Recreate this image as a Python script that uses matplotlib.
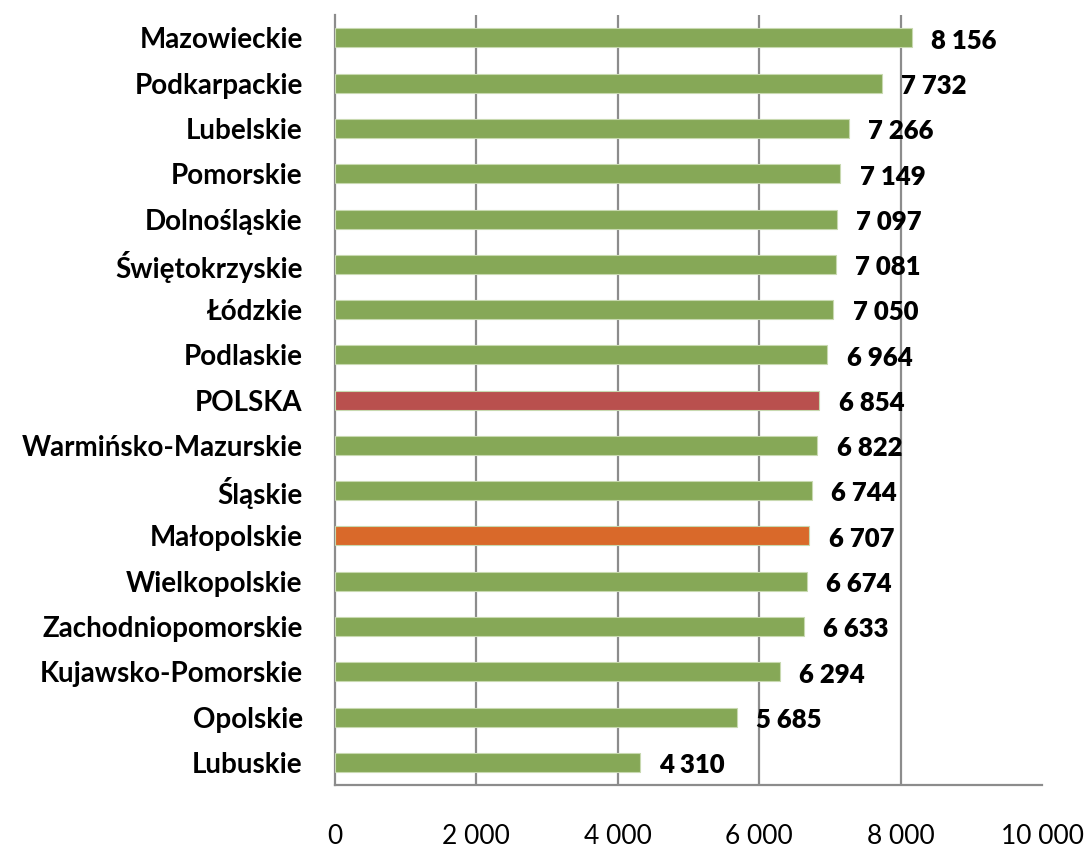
import matplotlib
matplotlib.use("Agg")
import matplotlib.pyplot as plt
import numpy as np

plt.rcParams['font.family'] = ['Lato', 'DejaVu Sans']

regions = ['Mazowieckie', 'Podkarpackie', 'Lubelskie', 'Pomorskie', 'Dolnośląskie',
           'Świętokrzyskie', 'Łódzkie', 'Podlaskie', 'POLSKA', 'Warmińsko-Mazurskie',
           'Śląskie', 'Małopolskie', 'Wielkopolskie', 'Zachodniopomorskie',
           'Kujawsko-Pomorskie', 'Opolskie', 'Lubuskie']
values = [8156, 7732, 7266, 7149, 7097, 7081, 7050, 6964, 6854, 6822,
          6744, 6707, 6674, 6633, 6294, 5685, 4310]
x_ticks = [0, 2000, 4000, 6000, 8000, 10000]

green = '#86A857'
colors = [green] * len(regions)
colors[regions.index('POLSKA')] = '#B9504E'
colors[regions.index('Małopolskie')] = '#D9692A'

fig = plt.figure(figsize=(10.9, 8.49), dpi=100)
ax = fig.add_axes([0.307, 0.0754, 0.649, 0.9066])

y = np.arange(len(regions))[::-1]
ax.barh(y, values, height=0.42, color=colors, edgecolor='#C8D9B0', linewidth=0.8, zorder=3)

for yi, v in zip(y, values):
    ax.annotate(f"{v:,}".replace(",", " "), (v, yi), xytext=(14, -2), textcoords='offset points',
                ha='left', va='center', fontsize=18.5, fontweight='heavy', color='black')

ax.set_xlim(0, 10000)
ax.set_ylim(-0.5, len(regions) - 0.5)
ax.set_xticks(x_ticks)
ax.set_xticklabels([f"{t:,}".replace(",", " ") for t in x_ticks], fontsize=19)
ax.set_yticks(y)
ax.set_yticklabels(regions, fontsize=20, fontweight='bold')
ax.tick_params(axis='x', length=0, pad=28)
ax.tick_params(axis='y', length=0, pad=23)

for g in x_ticks[1:-1]:
    ax.axvline(g, color='#8C8C8C', linewidth=1.6, zorder=1)

for s in ['top', 'right']:
    ax.spines[s].set_visible(False)
for s in ['left', 'bottom']:
    ax.spines[s].set_color('#8C8C8C')
    ax.spines[s].set_linewidth(1.6)

fig.savefig('out.png', dpi=100)
